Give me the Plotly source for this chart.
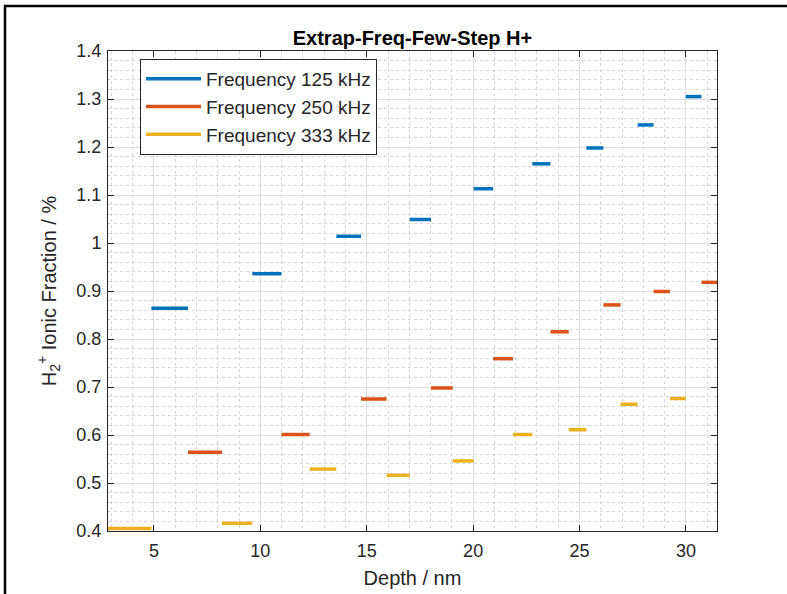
import plotly.graph_objects as go

# ---- data ----
series_names = ["Frequency 125 kHz", "Frequency 250 kHz", "Frequency 333 kHz"]
series_colors = ["#0072BD", "#D95319", "#EDB120"]

# depth bins (start / end, nm) and ionic fraction (%) for each frequency
f125_start = [4.88, 9.62, 13.57, 17.02, 20.02, 22.78, 25.32, 27.73, 29.99]
f125_end   = [6.60, 10.99, 14.73, 18.02, 20.94, 23.63, 26.12, 28.48, 30.73]
f125_value = [0.864, 0.936, 1.014, 1.049, 1.113, 1.165, 1.198, 1.246, 1.305]

f250_start = [6.60, 10.99, 14.73, 18.02, 20.94, 23.63, 26.12, 28.48, 30.73]
f250_end   = [8.20, 12.32, 15.93, 19.04, 21.87, 24.49, 26.93, 29.25, 31.46]
f250_value = [0.564, 0.601, 0.675, 0.698, 0.759, 0.815, 0.871, 0.899, 0.918]

f333_start = [2.84, 8.20, 12.32, 15.93, 19.04, 21.87, 24.49, 26.93, 29.25]
f333_end   = [4.88, 9.62, 13.57, 17.02, 20.02, 22.78, 25.32, 27.73, 29.99]
f333_value = [0.405, 0.416, 0.529, 0.516, 0.546, 0.601, 0.611, 0.664, 0.676]

x_tick_vals = [5, 10, 15, 20, 25, 30]
x_tick_text = ["5", "10", "15", "20", "25", "30"]
y_tick_vals = [0.4, 0.5, 0.6, 0.7, 0.8, 0.9, 1.0, 1.1, 1.2, 1.3, 1.4]
y_tick_text = ["0.4", "0.5", "0.6", "0.7", "0.8", "0.9", "1", "1.1", "1.2", "1.3", "1.4"]

x_range = [2.84, 31.46]
y_range = [0.4, 1.4]

FONT = "Liberation Sans, Arial, Helvetica, sans-serif"
TXT = "#262626"

series = [
    (f125_start, f125_end, f125_value),
    (f250_start, f250_end, f250_value),
    (f333_start, f333_end, f333_value),
]

fig = go.Figure()
for name, color, (starts, ends, vals) in zip(series_names, series_colors, series):
    xs, ys = [], []
    for s, e, v in zip(starts, ends, vals):
        xs += [s, e, None]
        ys += [v, v, None]
    fig.add_trace(go.Scatter(
        x=xs, y=ys, mode="lines", name=name,
        line=dict(color=color, width=3.5),
        connectgaps=False, hoverinfo="skip",
    ))

axis_common = dict(
    showline=True, linecolor=TXT, linewidth=1, mirror="ticks",
    ticks="inside", ticklen=6, tickwidth=1, tickcolor=TXT,
    showgrid=True, gridcolor="#dedede", gridwidth=1,
    zeroline=False, automargin=False,
    tickfont=dict(family=FONT, size=18, color=TXT),
)

fig.update_xaxes(
    range=x_range, tickvals=x_tick_vals, ticktext=x_tick_text,
    ticklabelstandoff=3,
    title=dict(text="Depth / nm", font=dict(family=FONT, size=20, color=TXT), standoff=11),
    minor=dict(dtick=1, tick0=0, showgrid=True, gridcolor="#d6d6d6", griddash="dot", gridwidth=1, ticks=""),
    **axis_common,
)
fig.update_yaxes(
    range=y_range, tickvals=y_tick_vals, ticktext=y_tick_text,
    ticklabelstandoff=2,
    title=dict(text="H<sub>2</sub><sup>+</sup> Ionic Fraction / %", font=dict(family=FONT, size=20, color=TXT), standoff=14),
    minor=dict(dtick=0.02, tick0=0, showgrid=True, gridcolor="#d6d6d6", griddash="dot", gridwidth=1, ticks=""),
    **axis_common,
)

L, R, T, B = 108, 70, 51, 63
W, H = 787, 594
pw, ph = W - L - R, H - T - B


def px2paper_x(px):
    return (px - L) / pw


def px2paper_y(py):
    return (H - B - py) / ph

fig.update_layout(
    width=W, height=H,
    margin=dict(l=L, r=R, t=T, b=B, pad=0, autoexpand=False),
    paper_bgcolor="white", plot_bgcolor="white",
    font=dict(family=FONT, color=TXT),
    title=dict(text="<b>Extrap-Freq-Few-Step H+</b>", x=(L + pw / 2) / W, xref="container", xanchor="center",
               y=1 - 38 / H, yref="container", yanchor="middle",
               font=dict(family=FONT, size=20, color="black")),
    legend=dict(
        x=px2paper_x(140), y=px2paper_y(59), xanchor="left", yanchor="top",
        bgcolor="white", bordercolor=TXT, borderwidth=1,
        font=dict(family=FONT, size=19, color=TXT),
        tracegroupgap=0, itemwidth=55,
    ),
    showlegend=True,
    shapes=[
        dict(type="line", xref="paper", yref="paper", layer="above",
             x0=px2paper_x(5), x1=px2paper_x(5), y0=px2paper_y(5), y1=px2paper_y(600),
             line=dict(color="black", width=2.5)),
        dict(type="line", xref="paper", yref="paper", layer="above",
             x0=px2paper_x(4), x1=px2paper_x(790), y0=px2paper_y(6), y1=px2paper_y(6),
             line=dict(color="black", width=2.5)),
    ],
)

fig.write_html("out.html")
